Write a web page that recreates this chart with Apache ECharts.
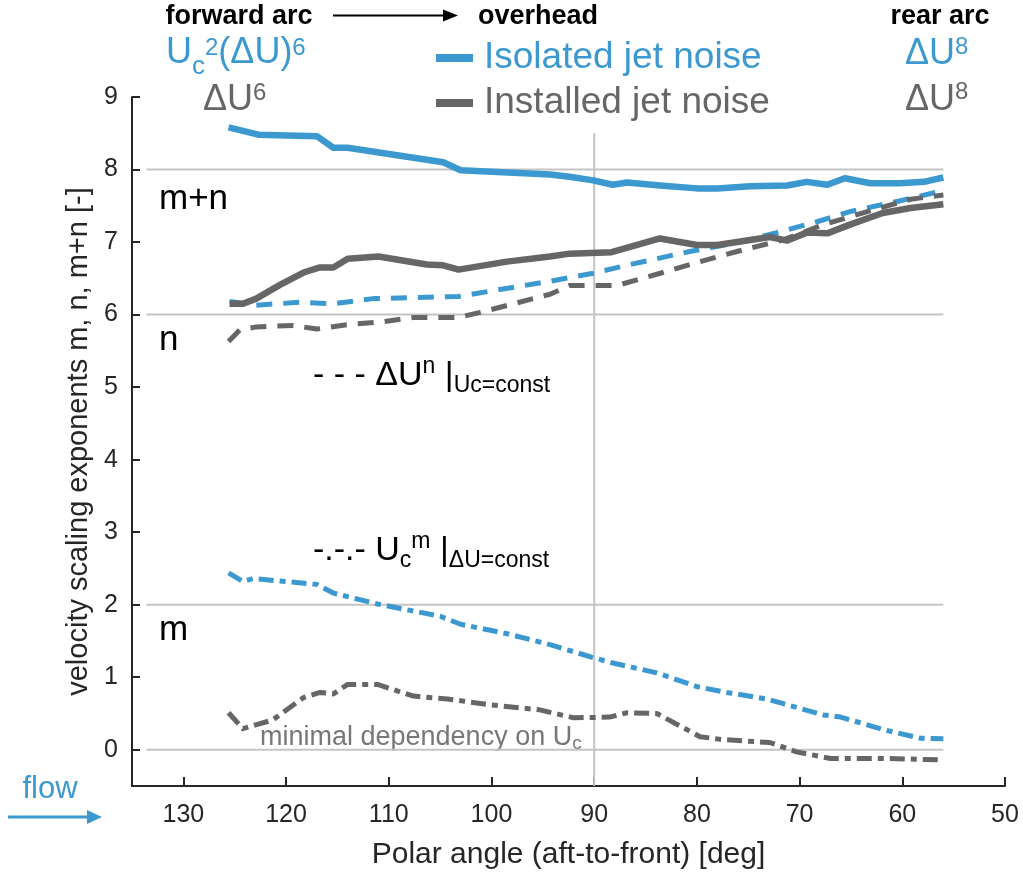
<!DOCTYPE html>
<html>
<head>
<meta charset="utf-8">
<script src="https://cdn.jsdelivr.net/npm/echarts@6/dist/echarts.min.js"></script>
<style>
html,body{margin:0;padding:0;background:#fff;}
#chart{width:1023px;height:875px;}
</style>
</head>
<body>
<div id="chart"></div>
<script>
// ---------- data ----------
const xTicks = [130, 120, 110, 100, 90, 80, 70, 60, 50];
const yTicks = [0, 1, 2, 3, 4, 5, 6, 7, 8, 9];

// Isolated jet noise, m+n (blue solid)
const isoMNAngle = [125.6,122.7,117,115.4,114,104.7,103,94.3,92.4,90.1,88.2,86.8,83.6,80,78,74.8,71.2,69.3,67.3,65.6,63.1,60.2,57.9,56];
const isoMNVal   = [8.58,8.48,8.46,8.30,8.30,8.10,7.99,7.93,7.90,7.85,7.79,7.82,7.78,7.74,7.74,7.77,7.78,7.83,7.79,7.88,7.81,7.81,7.83,7.89];

// Installed jet noise, m+n (gray solid)
const instMNAngle = [125.5,124.2,122.9,120.6,118.3,116.7,115.4,114,111,106.3,104.7,103.2,98.5,94.3,92.4,88.3,83.6,80,78,72.9,71.2,69.3,67.3,65.1,61.9,59.2,56];
const instMNVal   = [6.15,6.15,6.22,6.41,6.58,6.65,6.65,6.77,6.80,6.69,6.68,6.62,6.73,6.80,6.84,6.86,7.05,6.96,6.96,7.07,7.02,7.13,7.12,7.24,7.40,7.47,7.52];

// Isolated, n (blue dashed)
const isoNAngle = [125.5,122.9,118.6,115.4,111.5,103.2,94.3,90.1,86.5,80.7,76.1,72.2,68.3,65.1,60.5,56];
const isoNVal   = [6.18,6.13,6.17,6.15,6.22,6.25,6.46,6.57,6.69,6.87,6.99,7.13,7.28,7.42,7.56,7.71];

// Installed, n (gray dashed)
const instNAngle = [125.6,124.5,122.9,119.3,117,114.1,110.6,107.6,103.2,101.1,94.3,92.4,87.8,83.3,79.7,76.1,71.6,67.7,63.4,59.2,56];
const instNVal   = [5.63,5.79,5.83,5.85,5.80,5.86,5.90,5.96,5.96,6.03,6.28,6.40,6.40,6.58,6.73,6.87,7.03,7.24,7.42,7.59,7.65];

// Isolated, m (blue dash-dot)
const isoMAngle = [125.6,124.2,123.2,117,115.4,111.1,105,103,98.5,94.3,90.1,88.3,83.9,80,77.1,73.2,67.7,66,61.9,58.3,56];
const isoMVal   = [2.44,2.32,2.36,2.28,2.16,2.01,1.84,1.73,1.60,1.45,1.27,1.20,1.06,0.87,0.79,0.70,0.48,0.45,0.28,0.16,0.15];

// Installed, m (gray dash-dot)
const instMAngle = [125.6,124.2,121.3,118.3,116.7,115.4,114,111.1,107.6,104.3,100.1,95.3,92,88.5,86.8,83.9,79.7,77.5,72.9,70.3,67,61.9,56];
const instMVal   = [0.51,0.29,0.41,0.72,0.79,0.77,0.90,0.90,0.74,0.70,0.62,0.55,0.44,0.45,0.51,0.50,0.18,0.14,0.10,-0.03,-0.12,-0.12,-0.14];

// reference lines
const refLevels = [0, 2, 6, 8];
const refSpan = [133.6, 56];
const overheadAngle = 90;
const overheadSpan = [-0.5, 8.5];

// ---------- styling ----------
const BLUE = '#3b99cf';
const GRAY = '#666666';
const REF = '#c4c4c4';
const FONT = 'Liberation Sans, Arial, Helvetica, sans-serif';

function pairs(a, v) { return a.map((x, i) => [x, v[i]]); }

const series = [];
refLevels.forEach(lv => {
  series.push({
    type: 'line', silent: true, symbol: 'none', z: 1,
    data: [[refSpan[0], lv], [refSpan[1], lv]],
    lineStyle: { color: REF, width: 2 }
  });
});
series.push({
  type: 'line', silent: true, symbol: 'none', z: 1,
  data: [[overheadAngle, overheadSpan[0]], [overheadAngle, overheadSpan[1]]],
  lineStyle: { color: REF, width: 2 }
});

function dataSeries(name, a, v, color, type, width) {
  return {
    name: name, type: 'line', symbol: 'none', z: 3,
    data: pairs(a, v),
    lineStyle: { color: color, width: width, type: type, cap: 'butt', join: 'round' },
    itemStyle: { color: color }
  };
}
series.push(dataSeries('iso n', isoNAngle, isoNVal, BLUE, [16, 11], 5));
series.push(dataSeries('inst n', instNAngle, instNVal, GRAY, [16, 11], 5));
series.push(dataSeries('iso m', isoMAngle, isoMVal, BLUE, [15, 6, 6, 6], 5));
series.push(dataSeries('inst m', instMAngle, instMVal, GRAY, [15, 6, 6, 6], 5));
series.push(dataSeries('Installed jet noise', instMNAngle, instMNVal, GRAY, 'solid', 6.5));
series.push(dataSeries('Isolated jet noise', isoMNAngle, isoMNVal, BLUE, 'solid', 6.5));

// rich text helper: b = main, sup/sub shifted with asymmetric padding
function rich(color, size, supSize, supUp, subSize, subDown) {
  return {
    b: { fontSize: size, fontFamily: FONT, fill: color, lineHeight: size },
    sup: { fontSize: supSize, fontFamily: FONT, fill: color, lineHeight: supSize, padding: [0, 0, 2 * supUp, 0] },
    sub: { fontSize: subSize, fontFamily: FONT, fill: color, lineHeight: subSize, padding: [2 * subDown, 0, 0, 0] }
  };
}
function ftext(x, y, text, r) {
  return { type: 'text', x: x, y: y, style: { text: text, rich: r, align: 'left', verticalAlign: 'middle' } };
}

const chart = echarts.init(document.getElementById('chart'), null, { renderer: 'canvas' });
chart.setOption({
  animation: false,
  backgroundColor: '#ffffff',
  grid: { left: 132, right: 18, top: 97, bottom: 89, containLabel: false },
  xAxis: {
    type: 'value', inverse: true, min: 50, max: 135,
    splitLine: { show: false },
    axisLine: { show: true, onZero: false, lineStyle: { color: '#262626', width: 2 } },
    axisTick: { show: true, inside: true, length: 9, customValues: xTicks, lineStyle: { color: '#262626', width: 2 } },
    axisLabel: { customValues: xTicks, color: '#262626', fontSize: 25, fontFamily: FONT, margin: 17 },
    name: 'Polar angle (aft-to-front) [deg]', nameLocation: 'middle', nameGap: 54,
    nameTextStyle: { color: '#262626', fontSize: 30, fontFamily: FONT }
  },
  yAxis: {
    type: 'value', min: -0.5, max: 9,
    splitLine: { show: false },
    axisLine: { show: true, onZero: false, lineStyle: { color: '#262626', width: 2 } },
    axisTick: { show: true, inside: true, length: 8, customValues: yTicks, lineStyle: { color: '#262626', width: 2 } },
    axisLabel: { customValues: yTicks, color: '#262626', fontSize: 25, fontFamily: FONT, margin: 14 },
    name: 'velocity scaling exponents m, n, m+n [-]', nameLocation: 'middle', nameGap: 16,
    nameTextStyle: { color: '#262626', fontSize: 29, fontFamily: FONT }
  },
  legend: {
    orient: 'vertical', left: 436, top: 38, itemGap: 5, padding: 0,
    icon: 'rect', itemWidth: 37, itemHeight: 8,
    textStyle: { fontSize: 37, fontFamily: FONT, padding: [0, 0, 0, 6], lineHeight: 40 },
    data: [
      { name: 'Isolated jet noise', textStyle: { color: BLUE } },
      { name: 'Installed jet noise', textStyle: { color: GRAY } }
    ],
    selectedMode: false
  },
  graphic: [
    { type: 'text', x: 239, y: 17, style: { text: 'forward arc', fontSize: 27, fontWeight: 'bold', fontFamily: FONT, fill: '#000', align: 'center', verticalAlign: 'middle' } },
    { type: 'line', shape: { x1: 333, y1: 15.5, x2: 446, y2: 15.5 }, style: { stroke: '#000', lineWidth: 2 } },
    { type: 'polygon', shape: { points: [[443, 9.5], [458, 15.5], [443, 21.5]] }, style: { fill: '#000' } },
    { type: 'text', x: 478, y: 17, style: { text: 'overhead', fontSize: 27, fontWeight: 'bold', fontFamily: FONT, fill: '#000', align: 'left', verticalAlign: 'middle' } },
    { type: 'text', x: 940, y: 17, style: { text: 'rear arc', fontSize: 27, fontWeight: 'bold', fontFamily: FONT, fill: '#000', align: 'center', verticalAlign: 'middle' } },

    ftext(166, 53, '{b|U}{sub|c}{sup|2}{b|(ΔU)}{sup|6}', rich(BLUE, 36, 24, 5, 26, 14)),
    ftext(203, 100, '{b|ΔU}{sup|6}', rich(GRAY, 36, 24, 7, 24, 10)),
    ftext(905, 54, '{b|ΔU}{sup|8}', rich(BLUE, 36, 24, 7, 24, 10)),
    ftext(905, 100, '{b|ΔU}{sup|8}', rich(GRAY, 36, 24, 8, 24, 10)),

    { type: 'text', x: 159, y: 199, style: { text: 'm+n', fontSize: 35, fontFamily: FONT, fill: '#000', align: 'left', verticalAlign: 'middle' } },
    { type: 'text', x: 159, y: 340, style: { text: 'n', fontSize: 35, fontFamily: FONT, fill: '#000', align: 'left', verticalAlign: 'middle' } },
    { type: 'text', x: 159, y: 630, style: { text: 'm', fontSize: 35, fontFamily: FONT, fill: '#000', align: 'left', verticalAlign: 'middle' } },

    ftext(313, 376, '{b|- - - ΔU}{sup|n}{b| |}{sub|Uc=const}', rich('#000', 34, 23, 9, 23, 10)),
    ftext(313, 551, '{b|-.-.- U}{sub|c}{sup|m}{b| |}{sub|ΔU=const}', rich('#000', 34, 23, 9, 23, 10)),

    { type: 'text', x: 260, y: 738, style: { text: '{t|minimal dependency on U}{s|c}', rich: {
        t: { fontSize: 27, fontFamily: FONT, fill: '#777777', lineHeight: 27 },
        s: { fontSize: 19, fontFamily: FONT, fill: '#777777', lineHeight: 19, padding: [12, 0, 0, 0] } }, align: 'left', verticalAlign: 'middle' } },

    { type: 'text', x: 50, y: 789, style: { text: 'flow', fontSize: 31, fontFamily: FONT, fill: BLUE, align: 'center', verticalAlign: 'middle' } },
    { type: 'line', shape: { x1: 8, y1: 817, x2: 90, y2: 817 }, style: { stroke: BLUE, lineWidth: 3 } },
    { type: 'polygon', shape: { points: [[87, 810], [102, 817], [87, 824]] }, style: { fill: BLUE } }
  ],
  series: series
});
</script>
</body>
</html>
